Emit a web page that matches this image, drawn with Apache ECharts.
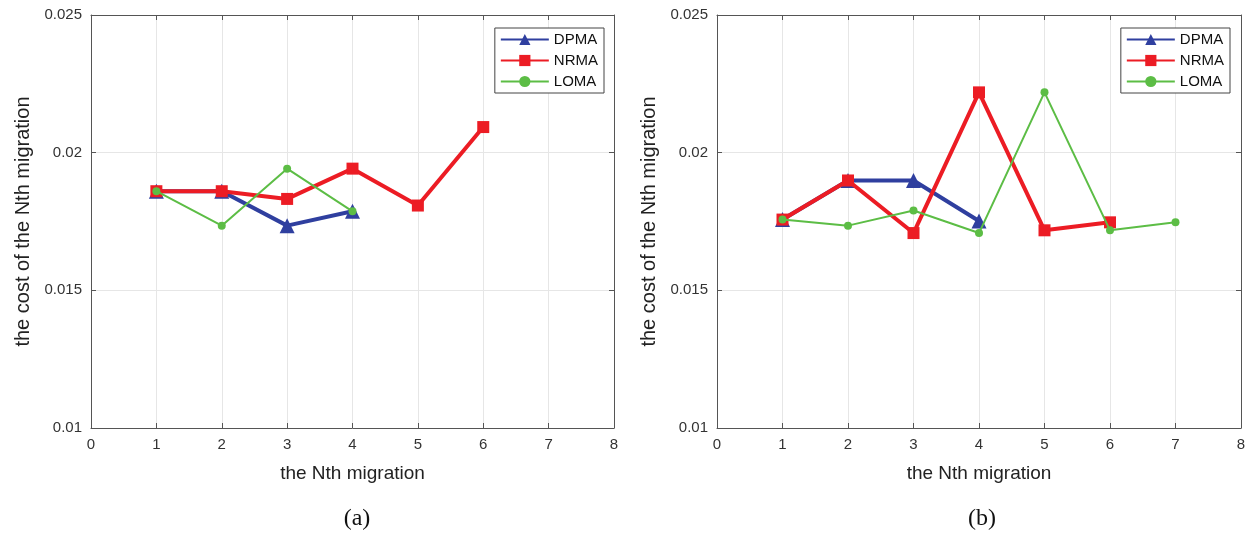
<!DOCTYPE html>
<html>
<head>
<meta charset="utf-8">
<script src="https://cdn.jsdelivr.net/npm/echarts@6/dist/echarts.min.js"></script>
<style>
html, body { margin: 0; padding: 0; background: #fff; }
#chart { width: 1249px; height: 536px; }
</style>
</head>
<body>
<div id="chart"></div>
<script>
// 数据: 横轴为第N次迁移
var seriesNames = ['DPMA', 'NRMA', 'LOMA'];
var xTicks = [0, 1, 2, 3, 4, 5, 6, 7, 8];
var yTicks = [0.01, 0.015, 0.02, 0.025];

// (a)
var dpmaA = [0.0186, 0.0186, 0.01735, 0.01787];
var nrmaA = [0.0186, 0.0186, 0.01832, 0.01942, 0.01808, 0.02093];
var lomaA = [0.0186, 0.01735, 0.01942, 0.01787];

// (b)
var dpmaB = [0.01757, 0.01899, 0.01899, 0.01752];
var nrmaB = [0.01757, 0.01899, 0.01708, 0.02219, 0.01718, 0.01747];
var lomaB = [0.01757, 0.01735, 0.0179, 0.01708, 0.02219, 0.01718, 0.01747];

var colors = ['#2f3f9f', '#ec1c24', '#5cbd45'];

function toPoints(arr) {
    var out = [];
    for (var i = 0; i < arr.length; i++) {
        out.push([i + 1, arr[i]]);
    }
    return out;
}

var chart = echarts.init(document.getElementById('chart'));

var textColor = '#333';
var frameColor = '#555';

function makeX(gridIndex, mirror) {
    return {
        type: 'value',
        gridIndex: gridIndex,
        position: mirror ? 'top' : 'bottom',
        min: xTicks[0],
        max: xTicks[xTicks.length - 1],
        interval: 1,
        name: mirror ? '' : 'the Nth migration',
        nameLocation: 'middle',
        nameGap: 36,
        nameTextStyle: { fontFamily: 'Liberation Sans', fontSize: 19, color: '#222' },
        axisLine: { show: true, onZero: false, lineStyle: { color: frameColor, width: 1 } },
        axisTick: { show: true, inside: true, length: 5, lineStyle: { color: frameColor } },
        axisLabel: { show: !mirror, fontFamily: 'Liberation Sans', fontSize: 15, color: textColor, margin: 9 },
        splitLine: { show: !mirror, lineStyle: { color: '#e6e6e6', width: 1 } }
    };
}

function makeY(gridIndex, mirror) {
    return {
        type: 'value',
        gridIndex: gridIndex,
        position: mirror ? 'right' : 'left',
        min: yTicks[0],
        max: yTicks[yTicks.length - 1],
        interval: 0.005,
        name: mirror ? '' : 'the cost of the Nth migration',
        nameLocation: 'middle',
        nameGap: 58,
        nameRotate: 90,
        nameTextStyle: { fontFamily: 'Liberation Sans', fontSize: 20, color: '#222' },
        axisLine: { show: true, onZero: false, lineStyle: { color: frameColor, width: 1 } },
        axisTick: { show: true, inside: true, length: 5, lineStyle: { color: frameColor } },
        axisLabel: { show: !mirror, fontFamily: 'Liberation Sans', fontSize: 15, color: textColor, margin: 9 },
        splitLine: { show: !mirror, lineStyle: { color: '#e6e6e6', width: 1 } }
    };
}

function makeSeries(gridIndex, dpma, nrma, loma) {
    var axisIdx = gridIndex * 2;
    return [{
        name: 'DPMA',
        type: 'line',
        xAxisIndex: axisIdx,
        yAxisIndex: axisIdx,
        data: toPoints(dpma),
        symbol: 'triangle',
        symbolSize: 15,
        lineStyle: { width: 4, color: colors[0] },
        itemStyle: { color: colors[0] },
        z: 2
    }, {
        name: 'NRMA',
        type: 'line',
        xAxisIndex: axisIdx,
        yAxisIndex: axisIdx,
        data: toPoints(nrma),
        symbol: 'rect',
        symbolSize: 12,
        lineStyle: { width: 4, color: colors[1] },
        itemStyle: { color: colors[1] },
        z: 3
    }, {
        name: 'LOMA',
        type: 'line',
        xAxisIndex: axisIdx,
        yAxisIndex: axisIdx,
        data: toPoints(loma),
        symbol: 'circle',
        symbolSize: 8,
        lineStyle: { width: 2, color: colors[2] },
        itemStyle: { color: colors[2] },
        z: 4
    }];
}

function makeLegend(right) {
    return {
        data: seriesNames,
        orient: 'vertical',
        right: right,
        top: 28,
        itemWidth: 48,
        itemHeight: 14,
        itemGap: 6,
        padding: [4, 6, 4, 5],
        borderColor: '#444',
        borderWidth: 1,
        backgroundColor: '#fff',
        textStyle: { fontFamily: 'Liberation Sans', fontSize: 15, color: '#111' },
        selectedMode: false
    };
}

var option = {
    animation: false,
    backgroundColor: '#fff',
    title: [{
        text: '(a)',
        left: 352,
        top: 502,
        textAlign: 'center',
        textStyle: { fontFamily: 'Liberation Serif', fontSize: 24, fontWeight: 'normal', color: '#111' }
    }, {
        text: '(b)',
        left: 977,
        top: 502,
        textAlign: 'center',
        textStyle: { fontFamily: 'Liberation Serif', fontSize: 24, fontWeight: 'normal', color: '#111' }
    }],
    legend: [makeLegend(645), makeLegend(19)],
    grid: [
        { left: 91, top: 15, width: 523, height: 413, show: false },
        { left: 717, top: 15, width: 524, height: 413, show: false }
    ],
    xAxis: [makeX(0, false), makeX(0, true), makeX(1, false), makeX(1, true)],
    yAxis: [makeY(0, false), makeY(0, true), makeY(1, false), makeY(1, true)],
    series: makeSeries(0, dpmaA, nrmaA, lomaA).concat(makeSeries(1, dpmaB, nrmaB, lomaB))
};

chart.setOption(option);
</script>
</body>
</html>
